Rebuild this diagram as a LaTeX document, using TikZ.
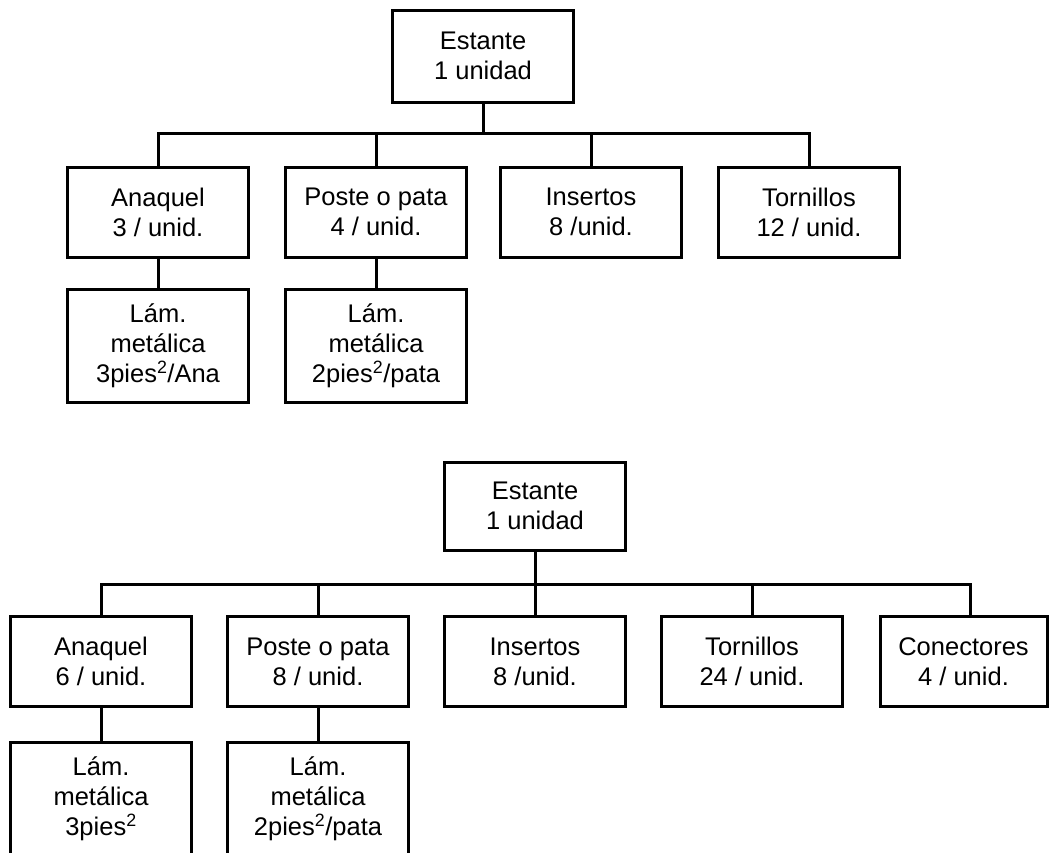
\documentclass[tikz,border=0pt]{standalone}
\usepackage{fontspec}
\setmainfont{Liberation Sans}
\begin{document}
\begin{tikzpicture}[x=1pt,y=-1pt,
  box/.style={draw, line width=3pt, inner sep=0pt, minimum width=181pt,
              minimum height=90pt, align=center,
              font=\fontsize{25.5}{30}\selectfont},
  tall/.style={box, minimum height=113pt},
  link/.style={line width=3pt}]
\useasboundingbox (0,0) rectangle (1050,852);
\clip (0,0) rectangle (1050,852);

% ---- first structure: 3 shelves ----
\node[box, minimum height=92pt] (E1) at (483,56) {Estante\\1 unidad};
\coordinate (bar1) at (483,133);
\node[box] (A1) at (158,212) {Anaquel\\3 / unid.};
\node[box] (P1) at (376,212) {Poste o pata\\4 / unid.};
\node[box] (I1) at (591,212) {Insertos\\8 /unid.};
\node[box] (T1) at (809,212) {Tornillos\\12 / unid.};
\node[tall] (LA1) at (158,345.5) {Lám.\\metálica\\3pies\textsuperscript{2}/Ana};
\node[tall] (LP1) at (376,345.5) {Lám.\\metálica\\2pies\textsuperscript{2}/pata};

\draw[link] (E1.south) -- (bar1);
\draw[link] (A1.north) |- (bar1);
\draw[link] (T1.north) |- (bar1);
\draw[link] (P1.north) -- (P1.north |- bar1);
\draw[link] (I1.north) -- (I1.north |- bar1);
\draw[link] (A1.south) -- (LA1.north);
\draw[link] (P1.south) -- (LP1.north);

% ---- second structure: 6 shelves ----
\node[box, minimum height=88pt] (E2) at (535,506) {Estante\\1 unidad};
\coordinate (bar2) at (535,584);
\node[box] (A2) at (101,661.5) {Anaquel\\6 / unid.};
\node[box] (P2) at (318,661.5) {Poste o pata\\8 / unid.};
\node[box] (I2) at (535,661.5) {Insertos\\8 /unid.};
\node[box] (T2) at (752,661.5) {Tornillos\\24 / unid.};
\node[box, minimum width=167pt] (C2) at (963.5,661.5) {Conectores\\4 / unid.};
\node[tall] (LA2) at (101,798.5) {Lám.\\metálica\\3pies\textsuperscript{2}};
\node[tall] (LP2) at (318,798.5) {Lám.\\metálica\\2pies\textsuperscript{2}/pata};

\draw[link] (E2.south) -- (bar2);
\draw[link] (A2.north) |- (bar2);
\draw[link] ([xshift=6.5pt]C2.north) |- (bar2);
\draw[link] (P2.north) -- (P2.north |- bar2);
\draw[link] (I2.north) -- (I2.north |- bar2);
\draw[link] (T2.north) -- (T2.north |- bar2);
\draw[link] (A2.south) -- (LA2.north);
\draw[link] (P2.south) -- (LP2.north);
\end{tikzpicture}
\end{document}
